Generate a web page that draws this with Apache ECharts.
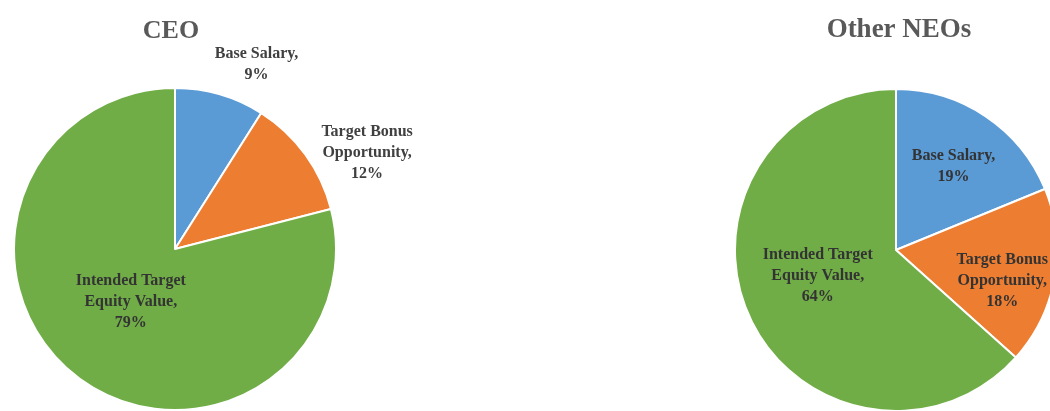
<!DOCTYPE html>
<html><head><meta charset="utf-8">
<script src="https://cdn.jsdelivr.net/npm/echarts@6/dist/echarts.min.js"></script>
<style>html,body{margin:0;padding:0;background:#fff}#c{width:1050px;height:411px}</style>
</head><body><div id="c"></div>
<script>
// Data
const categories = ['Base Salary', 'Target Bonus\nOpportunity', 'Intended Target\nEquity Value'];
const ceoValues = [9, 12, 79];
const neoValues = [19, 18, 64];
const chartTitles = ['CEO', 'Other NEOs'];

const colors = ['#5B9BD5', '#ED7D31', '#70AD47'];
const serif = '"Liberation Serif", "Times New Roman", serif';
const labelFont = { fontFamily: serif, fontWeight: 'bold', fontSize: 16, lineHeight: 21, color: '#404040', align: 'center' };

// label placement tweaks (style, not data)
const ceoLabelCfg = [
  { position: 'outside', dx: 30, dy: -24 },
  { position: 'outside', dx: 52, dy: 2 },
  { position: 'inside', dx: 7, dy: -13 }
];
const neoLabelCfg = [
  { position: 'inside', dx: 11, dy: -14 },
  { position: 'inside', dx: 24, dy: 17 },
  { position: 'inside', dx: -2, dy: -8 }
];

function buildData(values, cfg) {
  return values.map((v, i) => ({
    name: categories[i],
    value: v,
    itemStyle: { color: colors[i] },
    label: Object.assign({}, labelFont, { position: cfg[i].position, color: cfg[i].position === 'inside' ? '#333' : '#404040' }),
    labelLine: { show: false }
  }));
}

const chart = echarts.init(document.getElementById('c'));
chart.setOption({
  animation: false,
  backgroundColor: '#fff',
  title: [
    { text: chartTitles[0], left: 166, top: 13, textAlign: 'center',
      textStyle: { fontFamily: serif, fontWeight: 'bold', fontSize: 26, color: '#595959' } },
    { text: chartTitles[1], left: 894, top: 12, textAlign: 'center',
      textStyle: { fontFamily: serif, fontWeight: 'bold', fontSize: 27, color: '#595959' } }
  ],
  series: [
    {
      type: 'pie', center: [175, 249], radius: 161, startAngle: 90, clockwise: true,
      itemStyle: { borderColor: '#fff', borderWidth: 2 },
      label: { show: true, formatter: '{b},\n{c}%' },
      labelLine: { show: false, length: 6, length2: 0 },
      labelLayout: p => {
        const c = ceoLabelCfg[p.dataIndex];
        return { dx: c.dx, dy: c.dy, align: 'center' };
      },
      data: buildData(ceoValues, ceoLabelCfg)
    },
    {
      type: 'pie', center: [896, 250], radius: 161, startAngle: 90, clockwise: true,
      itemStyle: { borderColor: '#fff', borderWidth: 2 },
      label: { show: true, formatter: '{b},\n{c}%' },
      labelLine: { show: false },
      labelLayout: p => {
        const c = neoLabelCfg[p.dataIndex];
        return { dx: c.dx, dy: c.dy, align: 'center' };
      },
      data: buildData(neoValues, neoLabelCfg)
    }
  ]
});
</script></body></html>
